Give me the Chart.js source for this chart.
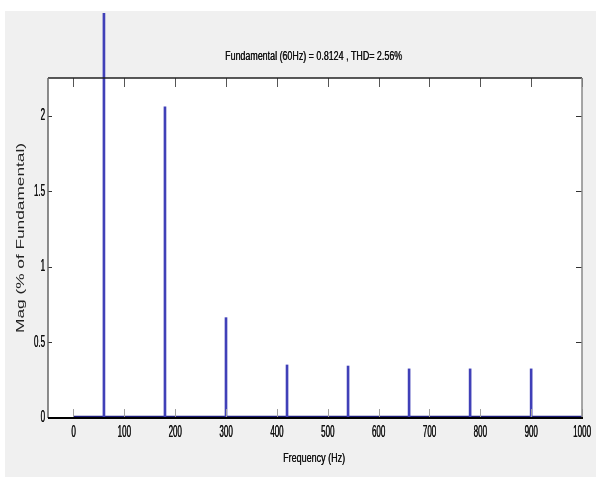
<!DOCTYPE html>
<html><head><meta charset="utf-8">
<script src="https://cdn.jsdelivr.net/npm/chart.js@4.4.1/dist/chart.umd.min.js"></script>
<style>html,body{margin:0;padding:0;background:#fff;}canvas{display:block;}</style>
</head><body>
<canvas id="c" width="596" height="477"></canvas>
<script>
// ---- data ----
const harmonicFreqs = [60, 180, 300, 420, 540, 660, 780, 900];
const harmonicMags  = [100, 2.06, 0.664, 0.351, 0.344, 0.325, 0.325, 0.325];
const baselineFreqs = [0, 1000];
const baselineMags  = [0.008, 0.008];
const xTickValues = [0, 100, 200, 300, 400, 500, 600, 700, 800, 900, 1000];
const xTickLabels = ['0', '100', '200', '300', '400', '500', '600', '700', '800', '900', '1000'];
const yTickValues = [0, 0.5, 1, 1.5, 2];
const yTickLabels = ['0', '0.5', '1', '1.5', '2'];
const titleText = 'Fundamental (60Hz) = 0.8124 , THD= 2.56%';
const xTitleText = 'Frequency (Hz)';
const yTitleText = 'Mag (% of Fundamental)';

const FONT = '"Liberation Sans", Arial, sans-serif';

function stretchedText(ctx, s, x, y, size, opt) {
  ctx.save();
  ctx.font = size + 'px ' + FONT;
  const w = ctx.measureText(s).width;
  const sx = opt.width ? opt.width / w : (opt.sx || 1);
  ctx.translate(x, y);
  if (opt.rotate) ctx.rotate(opt.rotate);
  ctx.scale(sx, 1);
  ctx.textAlign = opt.align || 'center';
  ctx.textBaseline = 'middle';
  ctx.fillStyle = opt.color || '#111111';
  ctx.fillText(s, 0, 0);
  if (opt.bold) { ctx.fillText(s, 0.4, 0); }
  ctx.restore();
}

const matlabLook = {
  id: 'matlabLook',
  beforeDraw(chart) {
    const ctx = chart.ctx, a = chart.chartArea;
    ctx.save();
    ctx.fillStyle = '#ffffff';
    ctx.fillRect(0, 0, chart.width, chart.height);
    ctx.fillStyle = '#f0f0f0';
    ctx.fillRect(5, 11, chart.width - 5, chart.height - 11);
    ctx.fillStyle = '#ffffff';
    ctx.fillRect(a.left, a.top, a.right - a.left, a.bottom - a.top);
    ctx.restore();
  },
  beforeDatasetsDraw(chart) {
    const ctx = chart.ctx, a = chart.chartArea;
    ctx.save();
    ctx.beginPath();
    ctx.rect(a.left, 13, a.right - a.left, a.bottom - 13);
    ctx.clip();
  },
  afterDatasetsDraw(chart) {
    const ctx = chart.ctx, a = chart.chartArea;
    ctx.restore();
    const xs = chart.scales.x, ys = chart.scales.y;
    ctx.save();
    // ticks
    ctx.lineWidth = 1;
    xTickValues.forEach(v => {
      const px = Math.round(xs.getPixelForValue(v)) + 0.5;
      ctx.strokeStyle = '#a0a0a0';
      ctx.beginPath(); ctx.moveTo(px, a.bottom); ctx.lineTo(px, a.bottom - 9); ctx.stroke();
      ctx.strokeStyle = '#555555';
      ctx.beginPath(); ctx.moveTo(px, a.top); ctx.lineTo(px, a.top + 9); ctx.stroke();
    });
    yTickValues.forEach(v => {
      const py = Math.round(ys.getPixelForValue(v)) + 0.5;
      ctx.strokeStyle = '#333333';
      ctx.beginPath(); ctx.moveTo(a.left, py); ctx.lineTo(a.left + 4, py); ctx.stroke();
      ctx.beginPath(); ctx.moveTo(a.right, py); ctx.lineTo(a.right - 6, py); ctx.stroke();
    });
    // box
    ctx.strokeStyle = '#222222';
    ctx.lineWidth = 1.5;
    ctx.beginPath(); ctx.moveTo(a.left, a.top); ctx.lineTo(a.right, a.top); ctx.stroke();
    ctx.strokeStyle = '#666666';
    ctx.beginPath(); ctx.moveTo(a.left, a.top); ctx.lineTo(a.left, a.bottom); ctx.stroke();
    ctx.strokeStyle = '#8a8a8a';
    ctx.beginPath(); ctx.moveTo(a.right, a.top); ctx.lineTo(a.right, a.bottom); ctx.stroke();
    ctx.strokeStyle = '#000000';
    ctx.lineWidth = 2;
    ctx.beginPath(); ctx.moveTo(a.left, a.bottom); ctx.lineTo(a.right + 1, a.bottom); ctx.stroke();
    ctx.restore();

    // tick labels
    xTickValues.forEach((v, i) => {
      stretchedText(ctx, xTickLabels[i], xs.getPixelForValue(v), a.bottom + 15, 16, {sx: 0.5, bold: true});
    });
    yTickValues.forEach((v, i) => {
      stretchedText(ctx, yTickLabels[i], a.left - 3, ys.getPixelForValue(v), 16, {sx: 0.5, align: 'right', bold: true});
    });
    // titles
    stretchedText(ctx, titleText, 313.5, 57, 12, {width: 177, bold: true});
    stretchedText(ctx, xTitleText, 314, 458, 13.5, {width: 62, bold: true});
    stretchedText(ctx, yTitleText, 21, 238, 10.5, {width: 190, rotate: -Math.PI / 2, color: '#222222'});
  }
};

new Chart(document.getElementById('c'), {
  type: 'bar',
  data: {
    datasets: [
      {
        type: 'bar',
        data: harmonicFreqs.map((f, i) => ({x: f, y: harmonicMags[i]})),
        backgroundColor: '#4040b8',
        borderWidth: 0,
        barThickness: 2,
        clip: false
      },
      {
        type: 'line',
        data: baselineFreqs.map((f, i) => ({x: f, y: baselineMags[i]})),
        borderColor: '#1c1c7a',
        borderWidth: 2,
        pointRadius: 0,
        clip: false
      }
    ]
  },
  options: {
    responsive: false,
    animation: false,
    devicePixelRatio: 1,
    layout: {padding: {left: 0, right: 14, top: 78, bottom: 0}},
    plugins: {legend: {display: false}, title: {display: false}, tooltip: {enabled: false}},
    scales: {
      x: {
        type: 'linear', min: -50, max: 1000, offset: false,
        grid: {display: false}, border: {display: false}, ticks: {display: false},
        afterFit: s => { s.height = 59; }
      },
      y: {
        min: 0, max: 2.25,
        grid: {display: false}, border: {display: false}, ticks: {display: false},
        afterFit: s => { s.width = 48; }
      }
    }
  },
  plugins: [matlabLook]
});
</script>
</body></html>
